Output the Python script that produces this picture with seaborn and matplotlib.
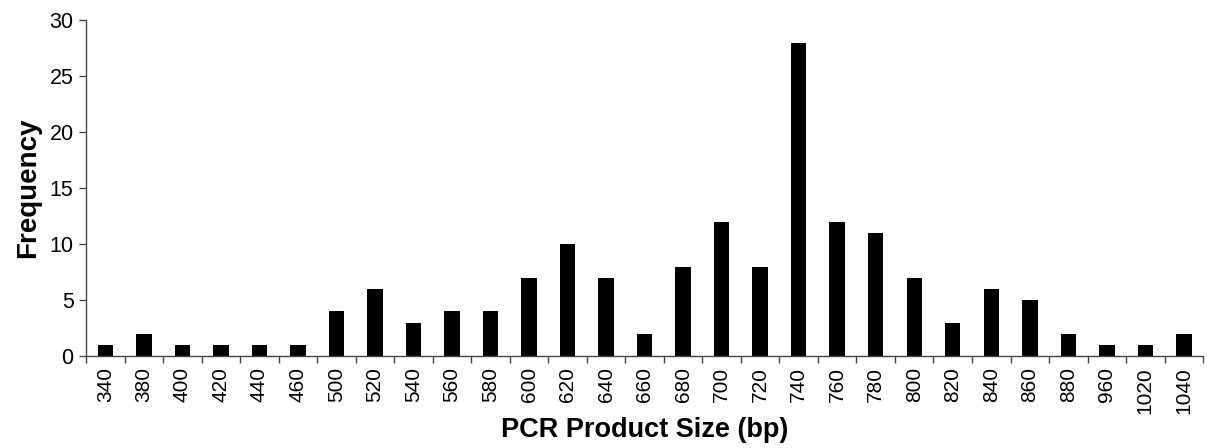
import matplotlib
matplotlib.use("Agg")
import matplotlib.pyplot as plt
import seaborn as sns
import numpy as np
import pandas as pd

sizes = ["340", "380", "400", "420", "440", "460", "500", "520", "540", "560",
         "580", "600", "620", "640", "660", "680", "700", "720", "740", "760",
         "780", "800", "820", "840", "860", "880", "960", "1020", "1040"]
frequency = [1, 2, 1, 1, 1, 1, 4, 6, 3, 4,
             4, 7, 10, 7, 2, 8, 12, 8, 28, 12,
             11, 7, 3, 6, 5, 2, 1, 1, 2]
y_ticks = [0, 5, 10, 15, 20, 25, 30]

sns.set_style("white")
plt.rcParams['font.family'] = ['Liberation Sans', 'DejaVu Sans']
plt.rcParams['text.color'] = 'black'
plt.rcParams['axes.labelcolor'] = 'black'
plt.rcParams['xtick.color'] = 'black'
plt.rcParams['ytick.color'] = 'black'

df = pd.DataFrame({"size": sizes, "freq": frequency})

fig = plt.figure(figsize=(12.07, 4.48), dpi=100)
ax = fig.add_axes([0.0713, 0.205, 0.9255, 0.75])

sns.barplot(data=df, x="size", y="freq", order=sizes, color="black",
            width=0.4, saturation=1, ax=ax, edgecolor="black", linewidth=0)

ax.set_xlim(-0.5, len(sizes) - 0.5)
ax.set_ylim(0, 30)
ax.set_yticks(y_ticks)
ax.set_yticklabels([str(t) for t in y_ticks], fontsize=15.5)
ax.set_xticks(range(len(sizes)))
ax.set_xticklabels(sizes, rotation=90, fontsize=15)
ax.tick_params(axis='x', which='major', length=0, pad=8, labelcolor='black')
ax.set_xticks(np.arange(-0.5, len(sizes), 1.0), minor=True)
ax.tick_params(axis='x', which='minor', length=5, width=1, color='#444444', direction='out', bottom=True)
ax.tick_params(axis='y', which='major', length=5, width=1, color='#444444', direction='out', left=True, pad=4,
               labelcolor='black')

for s in ['top', 'right']:
    ax.spines[s].set_visible(False)
for s in ['left', 'bottom']:
    ax.spines[s].set_color('#444444')
    ax.spines[s].set_linewidth(1)

ax.set_xlabel("PCR Product Size (bp)", fontsize=19.5, fontweight='bold', labelpad=2, color='black')
ax.set_ylabel("Frequency", fontsize=20, fontweight='bold', labelpad=6, color='black')

fig.savefig("out.png", dpi=100)
